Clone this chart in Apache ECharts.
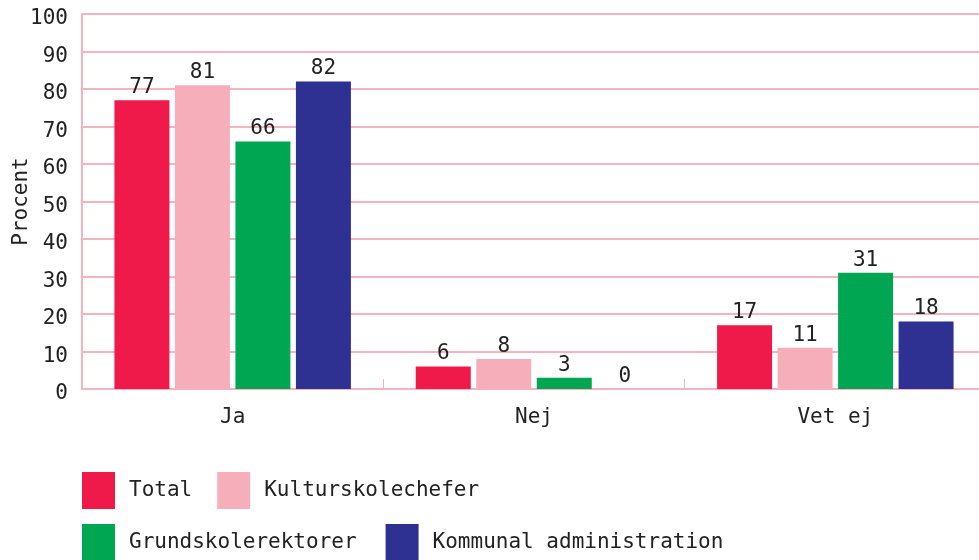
<!DOCTYPE html>
<html>
<head>
<meta charset="utf-8">
<script src="https://cdn.jsdelivr.net/npm/echarts@6/dist/echarts.min.js"></script>
<style>
html, body { margin: 0; padding: 0; background: #fff; }
#chart { width: 979px; height: 560px; }
</style>
</head>
<body>
<div id="chart"></div>
<script>
// svar per grupp, procent
var categories = ['Ja', 'Nej', 'Vet ej'];
var total = [77, 6, 17];
var kulturskolechefer = [81, 8, 11];
var grundskolerektorer = [66, 3, 31];
var kommunal = [82, 0, 18];

var FONT = '"DejaVu Sans Mono", "Liberation Mono", monospace';
var FS = 21;
var pink = '#f5b3c0';

var chart = echarts.init(document.getElementById('chart'));

function bar(name, data, color) {
    return {
        name: name,
        type: 'bar',
        data: data,
        barWidth: 55,
        barGap: '10%',
        itemStyle: { color: color },
        label: {
            show: true,
            position: 'top',
            distance: 2,
            color: '#222',
            fontFamily: FONT,
            fontSize: FS
        }
    };
}

var legendBase = {
    icon: 'rect',
    itemWidth: 33,
    itemHeight: 37,
    left: 82,
    padding: 0,
    orient: 'horizontal',
    textStyle: {
        color: '#222',
        fontFamily: FONT,
        fontSize: FS,
        padding: [0, 0, 0, 9]
    }
};

var options = {
    animation: false,
    grid: {
        left: 82,
        right: -7,
        top: 14,
        bottom: 171,
        outerBoundsMode: 'none',
        containLabel: false
    },
    legend: [
        Object.assign({}, legendBase, { top: 472, itemGap: 25, data: ['Total', 'Kulturskolechefer'] }),
        Object.assign({}, legendBase, { top: 524, itemGap: 29, data: ['Grundskolerektorer', 'Kommunal administration'] })
    ],
    xAxis: {
        type: 'category',
        data: categories,
        axisLine: { show: true, lineStyle: { color: pink, width: 2 } },
        axisTick: { show: true, inside: true, length: 10, lineStyle: { color: pink } },
        axisLabel: {
            color: '#222',
            fontFamily: FONT,
            fontSize: FS,
            margin: 18
        }
    },
    yAxis: {
        type: 'value',
        min: 0,
        max: 100,
        interval: 10,
        name: 'Procent',
        nameLocation: 'middle',
        nameRotate: 90,
        nameGap: 50,
        nameMoveOverlap: false,
        nameTextStyle: { color: '#222', fontFamily: FONT, fontSize: FS },
        axisLine: { show: true, lineStyle: { color: pink, width: 2 } },
        axisTick: { show: false },
        splitLine: { show: true, lineStyle: { color: pink, width: 2 } },
        axisLabel: {
            color: '#222',
            fontFamily: FONT,
            fontSize: FS,
            margin: 14,
            verticalAlign: 'top',
            lineHeight: 10
        }
    },
    series: [
        bar('Total', total, '#ef1a4a'),
        bar('Kulturskolechefer', kulturskolechefer, '#f7aebb'),
        bar('Grundskolerektorer', grundskolerektorer, '#00a651'),
        bar('Kommunal administration', kommunal, '#2e3192')
    ]
};

chart.setOption(options);
window.addEventListener('resize', function () { chart.resize(); });
</script>
</body>
</html>
